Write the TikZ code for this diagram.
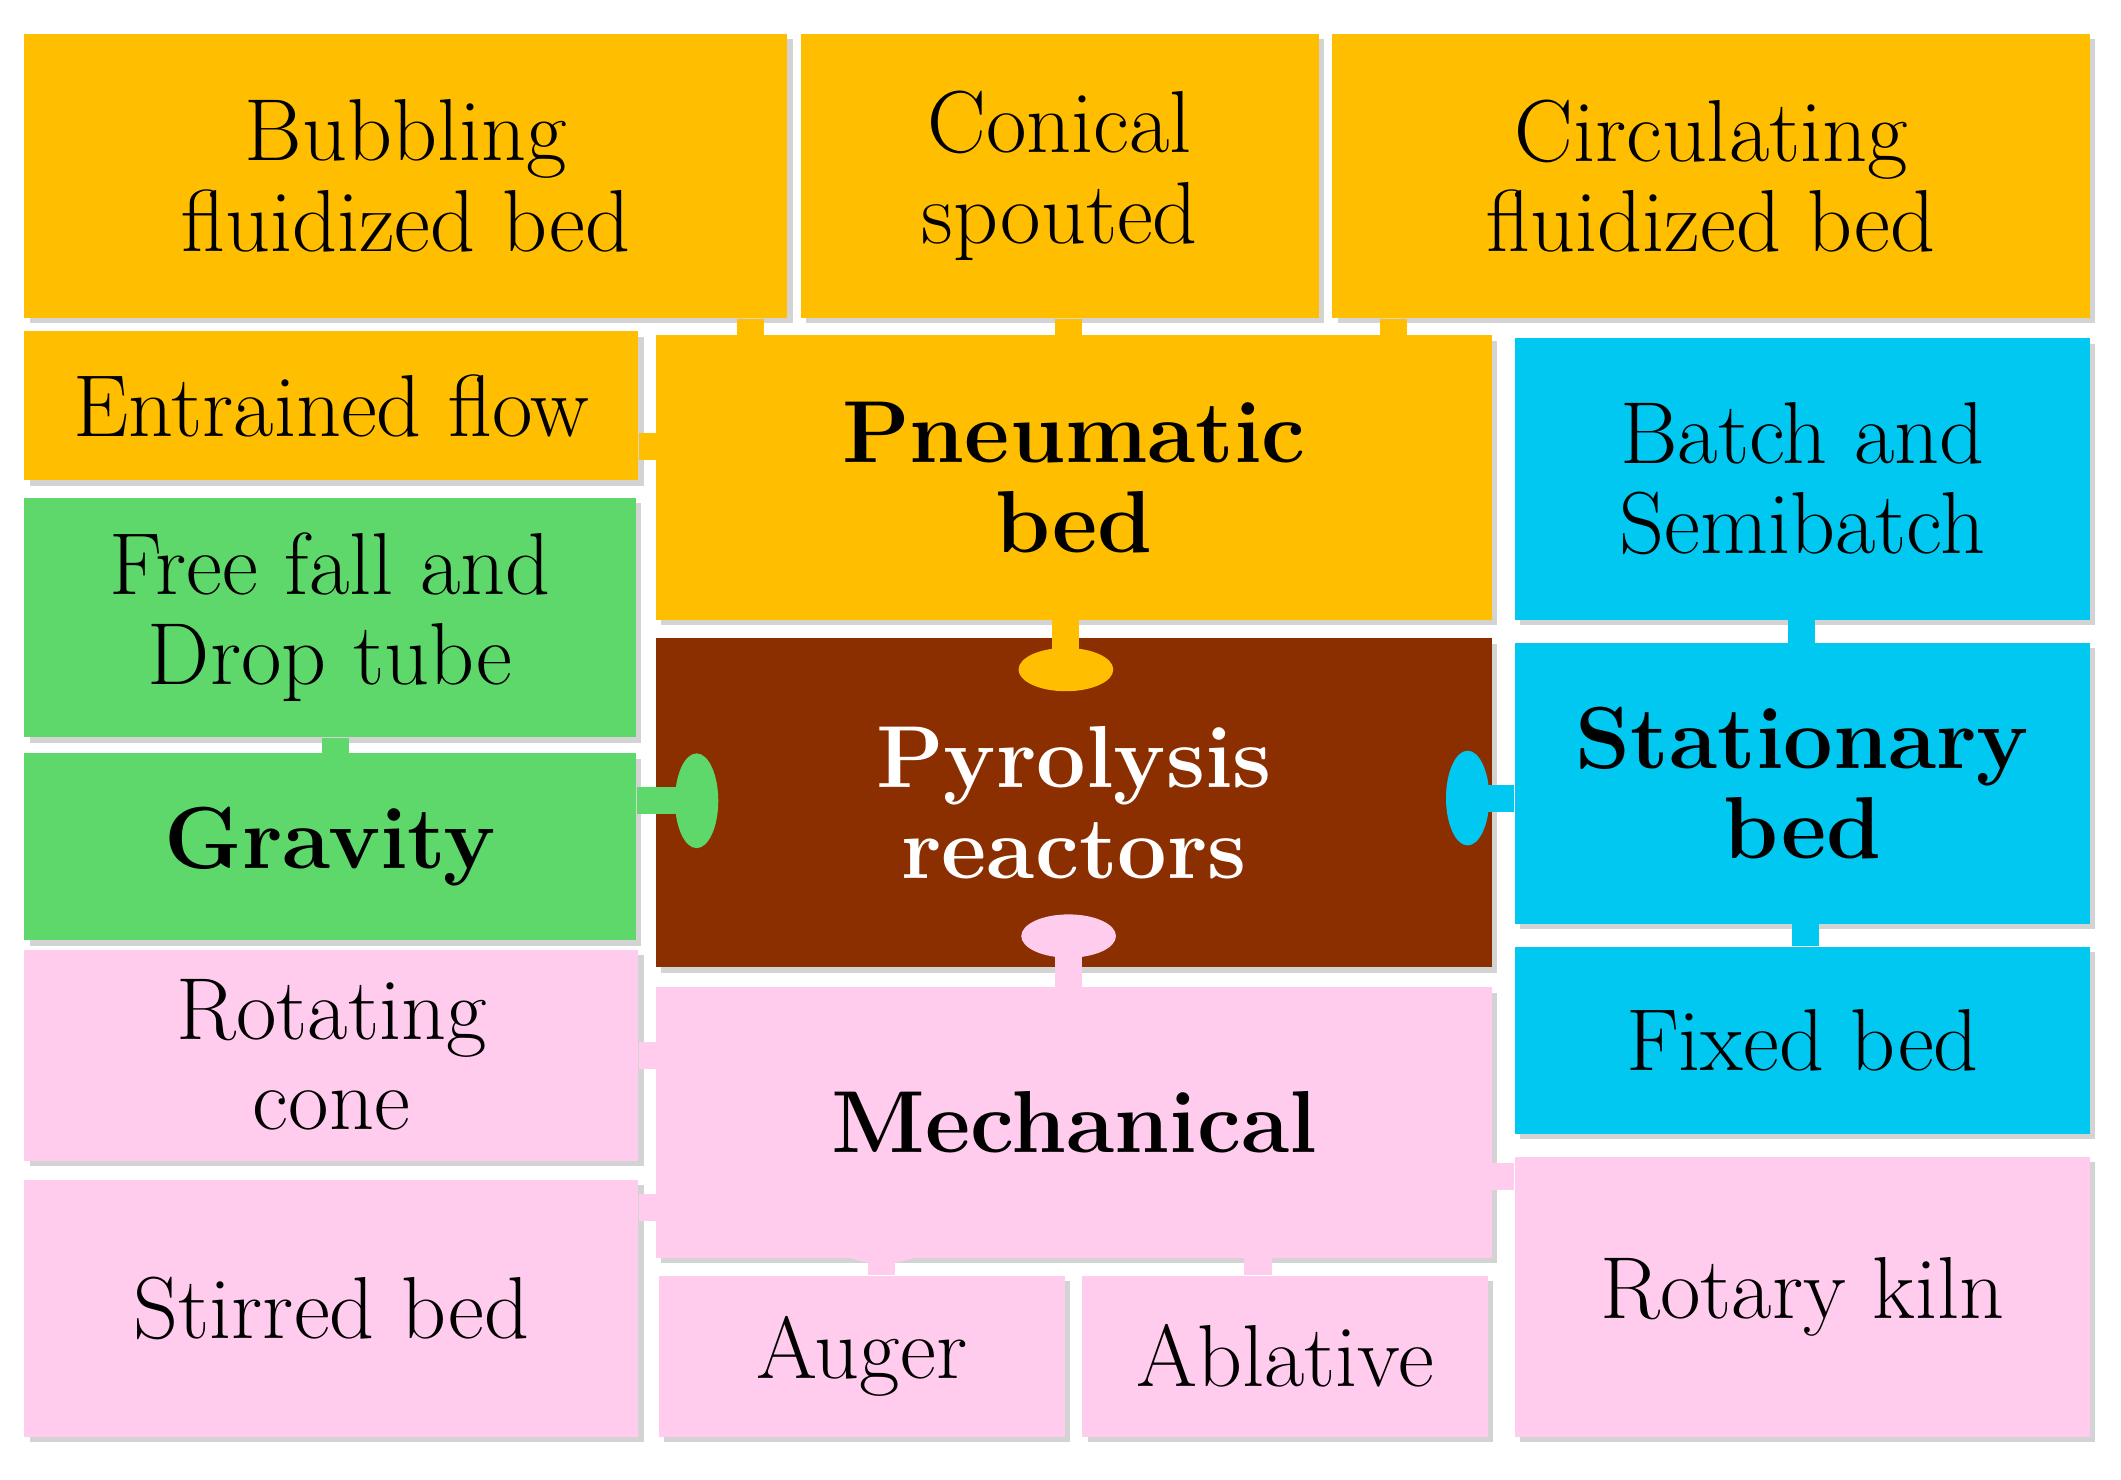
\documentclass[tikz,border=0pt]{standalone}
\usetikzlibrary{shapes.geometric,shadows}
\definecolor{orangec}{HTML}{FFBE00}
\definecolor{greenc}{HTML}{5FD86B}
\definecolor{brownc}{HTML}{8B2E00}
\definecolor{bluec}{HTML}{00C8F0}
\definecolor{pinkc}{HTML}{FFCCEE}
\tikzset{
  blk/.style={rectangle, inner sep=0pt, align=center, font=\fontsize{18.5}{19}\selectfont,
    drop shadow={shadow xshift=0.04cm, shadow yshift=-0.04cm, opacity=0.35}},
  stem/.style={line width=0.2cm},
  knobh/.style={ellipse, inner sep=0pt, minimum width=0.7cm, minimum height=0.32cm},
  knobv/.style={ellipse, inner sep=0pt, minimum width=0.32cm, minimum height=0.7cm}
}
\newcommand{\blk}[7]{% name, x1, y1, x2, y2, colour, text
\node[blk, fill=#6, minimum width={(#4-#2)*0.01cm}, minimum height={(#5-#3)*0.01cm}]
  (#1) at ({(#2+#4)/2}, {(#3+#5)/2}) {#7};}
\begin{document}
\begin{tikzpicture}[x=0.01cm, y=-0.01cm]
\useasboundingbox (0,0) rectangle (1568,1094);
% blocks
\blk{bub}{18}{25}{582}{235}{orangec}{Bubbling\\fluidized bed}
\blk{con}{592}{25}{975}{235}{orangec}{Conical\\spouted}
\blk{cir}{985}{25}{1545}{235}{orangec}{Circulating\\fluidized bed}
\blk{ent}{18}{245}{472}{355}{orangec}{Entrained flow}
\blk{pne}{485}{248}{1103}{458}{orangec}{\textbf{Pneumatic}\\\textbf{bed}}
\blk{bat}{1120}{250}{1545}{458}{bluec}{Batch and\\Semibatch}
\blk{fre}{18}{368}{470}{545}{greenc}{Free fall and\\Drop tube}
\blk{gra}{18}{557}{470}{695}{greenc}{\textbf{Gravity}}
\blk{pyr}{485}{472}{1103}{715}{brownc}{\color{white}\textbf{Pyrolysis}\\\color{white}\textbf{reactors}}
\blk{sta}{1120}{475}{1545}{683}{bluec}{\textbf{Stationary}\\\textbf{bed}}
\blk{fix}{1120}{700}{1545}{838}{bluec}{Fixed bed}
\blk{rot}{18}{702}{472}{858}{pinkc}{Rotating\\cone}
\blk{mec}{485}{730}{1103}{930}{pinkc}{\textbf{Mechanical}}
\blk{sti}{18}{872}{472}{1062}{pinkc}{Stirred bed}
\blk{aug}{487}{943}{787}{1062}{pinkc}{Auger}
\blk{abl}{800}{943}{1100}{1062}{pinkc}{Ablative}
\blk{kil}{1120}{855}{1545}{1062}{pinkc}{Rotary kiln}
% tabs
\coordinate (k1) at (555,265);
\coordinate (k2) at (790,265);
\coordinate (k3) at (1030,265);
\coordinate (k4) at (515,330);
\coordinate (k5) at (788,495);
\coordinate (k6) at (248,572);
\coordinate (k7) at (515,592);
\coordinate (k8) at (1332,495);
\coordinate (k9) at (1085,590);
\coordinate (k10) at (790,692);
\coordinate (k11) at (1335,665);
\coordinate (k12) at (508,780);
\coordinate (k13) at (505,893);
\coordinate (k14) at (652,918);
\coordinate (k15) at (930,915);
\coordinate (k16) at (1085,870);
\draw[stem, orangec] (bub.south -| k1) -- (k1) node[knobh, fill=orangec]{};
\draw[stem, orangec] (con.south -| k2) -- (k2) node[knobh, fill=orangec]{};
\draw[stem, orangec] (cir.south -| k3) -- (k3) node[knobh, fill=orangec]{};
\draw[stem, orangec] (ent.east |- k4) -- (k4) node[knobv, fill=orangec]{};
\draw[stem, orangec] (pne.south -| k5) -- (k5) node[knobh, fill=orangec]{};
\draw[stem, greenc] (fre.south -| k6) -- (k6) node[knobh, fill=greenc]{};
\draw[stem, greenc] (gra.east |- k7) -- (k7) node[knobv, fill=greenc]{};
\draw[stem, bluec] (bat.south -| k8) -- (k8) node[knobh, fill=bluec]{};
\draw[stem, bluec] (sta.west |- k9) -- (k9) node[knobv, fill=bluec]{};
\draw[stem, pinkc] (mec.north -| k10) -- (k10) node[knobh, fill=pinkc]{};
\draw[stem, bluec] (fix.north -| k11) -- (k11) node[knobh, fill=bluec]{};
\draw[stem, pinkc] (rot.east |- k12) -- (k12) node[knobv, fill=pinkc]{};
\draw[stem, pinkc] (sti.east |- k13) -- (k13) node[knobv, fill=pinkc]{};
\draw[stem, pinkc] (aug.north -| k14) -- (k14) node[knobh, fill=pinkc]{};
\draw[stem, pinkc] (abl.north -| k15) -- (k15) node[knobh, fill=pinkc]{};
\draw[stem, pinkc] (kil.west |- k16) -- (k16) node[knobv, fill=pinkc]{};
\end{tikzpicture}
\end{document}
